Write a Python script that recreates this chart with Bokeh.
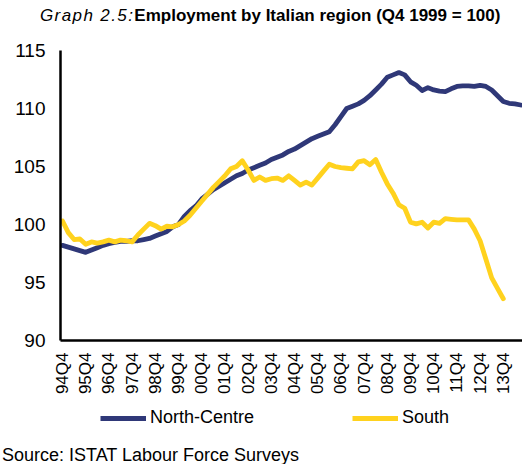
import math
from bokeh.plotting import figure
from bokeh.layouts import column
from bokeh.models import Range1d, Legend, LegendItem, FixedTicker, Div
from bokeh.embed import file_html
from bokeh.resources import INLINE

# ---- data (quarterly index, Q4 1999 = 100), first quarter = 94Q4 ----
tick_labels = ["94Q4", "95Q4", "96Q4", "97Q4", "98Q4", "99Q4", "00Q4", "01Q4",
               "02Q4", "03Q4", "04Q4", "05Q4", "06Q4", "07Q4", "08Q4", "09Q4",
               "10Q4", "11Q4", "12Q4", "13Q4"]

north_centre = [98.2, 98.05, 97.9, 97.75, 97.6, 97.8, 98.0, 98.2, 98.35, 98.45,
                98.55, 98.55, 98.6, 98.6, 98.7, 98.8, 99.0, 99.2, 99.4, 99.8,
                100.0, 100.7, 101.2, 101.6, 102.2, 102.6, 103.0, 103.3, 103.6, 103.9,
                104.2, 104.4, 104.7, 104.9, 105.1, 105.3, 105.6, 105.8, 106.0, 106.3,
                106.5, 106.8, 107.1, 107.4, 107.6, 107.8, 108.0, 108.6, 109.3, 110.0,
                110.2, 110.4, 110.7, 111.1, 111.6, 112.1, 112.7, 112.9, 113.1, 112.9,
                112.3, 112.0, 111.55, 111.8, 111.6, 111.5, 111.45, 111.7, 111.9, 111.95,
                111.95, 111.9, 112.0, 111.9, 111.6, 111.1, 110.6, 110.45, 110.4, 110.3]

south = [100.3, 99.3, 98.7, 98.75, 98.3, 98.5, 98.4, 98.5, 98.65, 98.5,
         98.65, 98.6, 98.5, 99.1, 99.6, 100.1, 99.9, 99.6, 99.85, 99.8,
         100.0, 100.3, 100.8, 101.4, 102.0, 102.6, 103.2, 103.7, 104.2, 104.8,
         105.0, 105.5, 104.7, 103.8, 104.1, 103.8, 103.95, 104.0, 103.8, 104.2,
         103.8, 103.4, 103.65, 103.4, 104.0, 104.6, 105.2, 105.0, 104.9, 104.85,
         104.8, 105.4, 105.5, 105.15, 105.6, 104.5, 103.5, 102.7, 101.7, 101.4,
         100.2, 100.05, 100.2, 99.7, 100.2, 100.1, 100.5, 100.45, 100.4, 100.4,
         100.4, 99.6, 98.6, 97.0, 95.4, 94.5, 93.6]

y_ticks = [90, 95, 100, 105, 110, 115]

NC_COLOR = "#2F3878"
S_COLOR = "#FFD21E"
FONT = "Liberation Sans"
W = 522

# ---- title strip ----
title_html = (
    "<div style=\"padding-left:40px; padding-top:7px; line-height:17px; "
    "white-space:nowrap; font-family:'Liberation Sans', Arial, sans-serif; "
    "font-size:17px; color:#000;\">"
    "<span style=\"font-style:italic; letter-spacing:1.4px;\">Graph 2.5:</span>"
    "<span style=\"font-weight:bold;\">Employment by Italian region (Q4 1999 = 100)</span>"
    "</div>"
)
title_div = Div(text=title_html, width=W, height=40, margin=(0, 0, 0, 0))

# ---- main chart ----
p = figure(frame_width=462, frame_height=290,
           min_border_left=60, min_border_right=0,
           min_border_top=10, min_border_bottom=60,
           x_range=Range1d(-0.345, 79.31), y_range=Range1d(90, 115),
           output_backend="svg", toolbar_location=None)
p.outline_line_color = None
p.xgrid.visible = False
p.ygrid.visible = False

p.line(list(range(len(north_centre))), north_centre, line_color=NC_COLOR,
       line_width=4.8, line_join="round", line_cap="round")
p.line(list(range(len(south))), south, line_color=S_COLOR,
       line_width=4.8, line_join="round", line_cap="round")

xa = p.xaxis[0]
xa.ticker = FixedTicker(ticks=[4 * k for k in range(len(tick_labels))])
xa.major_label_overrides = {4 * k: lab for k, lab in enumerate(tick_labels)}
xa.major_label_orientation = math.pi / 2
xa.major_label_text_font = FONT
xa.major_label_text_font_size = "17px"
xa.major_label_text_color = "black"
xa.major_tick_line_color = None
xa.minor_tick_line_color = None
xa.major_tick_out = 0
xa.major_tick_in = 0
xa.major_label_standoff = 12
xa.axis_line_color = "black"
xa.axis_line_width = 2.5

ya = p.yaxis[0]
ya.ticker = FixedTicker(ticks=y_ticks)
ya.major_label_text_font = FONT
ya.major_label_text_font_size = "19px"
ya.major_label_text_color = "black"
ya.major_tick_line_color = None
ya.minor_tick_line_color = None
ya.major_tick_out = 0
ya.major_tick_in = 0
ya.major_label_standoff = 15
ya.axis_line_color = "black"
ya.axis_line_width = 2.5

# ---- legend strip (frame aligned with the chart frame) ----
bf = figure(width=W, height=40, min_border=0,
            x_range=Range1d(0, 1), y_range=Range1d(0, 1),
            x_axis_location=None, y_axis_location=None,
            output_backend="svg", toolbar_location=None)
bf.outline_line_color = None
bf.xgrid.visible = False
bf.ygrid.visible = False
lr_nc = bf.line([-5, -4], [-5, -4], line_color=NC_COLOR, line_width=4.8)
lr_s = bf.line([-5, -4], [-5, -4], line_color=S_COLOR, line_width=4.8)
for renderer, name, lx in [(lr_nc, "North-Centre", 40), (lr_s, "South", 292)]:
    lg = Legend(items=[LegendItem(label=name, renderers=[renderer])],
                location=(lx, 12), orientation="horizontal",
                padding=0, margin=0, spacing=0,
                glyph_width=46, glyph_height=20, label_height=20,
                label_standoff=4,
                label_text_font=FONT, label_text_font_size="18px",
                label_text_color="black",
                border_line_color=None, background_fill_alpha=0)
    bf.add_layout(lg, "center")

# ---- source strip ----
source_html = (
    "<div style=\"padding-left:2px; padding-top:6px; line-height:18px; "
    "white-space:nowrap; font-family:'Liberation Sans', Arial, sans-serif; "
    "font-size:18px; color:#000;\">Source: ISTAT Labour Force Surveys</div>"
)
source_div = Div(text=source_html, width=W, height=24, margin=(0, 0, 0, 0))

layout = column(title_div, p, bf, source_div, spacing=0)
open("out.html", "w").write(file_html(layout, INLINE))
